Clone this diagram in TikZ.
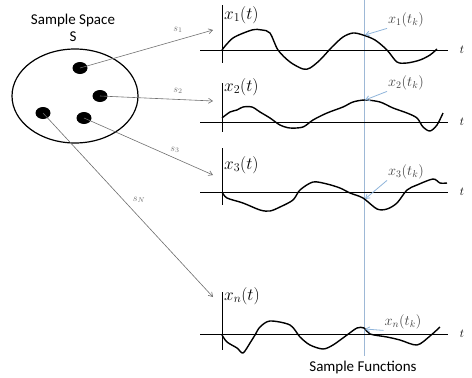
\documentclass[tikz,border=0pt]{standalone}
\usepackage{amsmath}
\usepackage{fontspec}
\newfontfamily\captionFont{Carlito}
\usepackage{tikz}
\usetikzlibrary{
  arrows.meta,
  shapes.geometric
}
\definecolor{mapGray}{HTML}{6E6E6E}
\definecolor{tkBlue}{HTML}{9DB8D6}
\definecolor{tkArrowBlue}{HTML}{8FB4DA}
\tikzset{
  samplePoint/.style={ellipse, fill=black, minimum width=15pt, minimum height=12pt, inner sep=0pt},
  spaceOutline/.style={draw=black, line width=1.2pt},
  mapArrow/.style={draw=mapGray, line width=0.6pt, -{Straight Barb[length=4pt,width=5pt]}},
  mapLabel/.style={font=\fontsize{10}{11}\selectfont, text=mapGray, inner sep=1pt},
  axisLine/.style={black, line width=0.8pt},
  sampleWave/.style={black, line width=1.4pt, line join=round, smooth, tension=0.5},
  funcLabel/.style={font=\fontsize{17}{19}\selectfont, anchor=west, inner sep=1pt},
  tkLabel/.style={font=\fontsize{14}{16}\selectfont, text=black!75, inner sep=1pt},
  tkArrow/.style={draw=tkArrowBlue, line width=0.8pt, -{Straight Barb[length=4pt,width=5pt]}},
  timeLabel/.style={font=\fontsize{13}{15}\selectfont},
  captionText/.style={font=\captionFont\fontsize{15}{17}\selectfont, align=center}
}

\begin{document}
\begin{tikzpicture}[x=1pt,y=-1pt]
  \useasboundingbox (0,0) rectangle (472,378);

  \node[captionText] (spaceLabel) at (73,28) {Sample Space\\S};
  \draw[spaceOutline] (75,96) ellipse [x radius=63, y radius=47];
  \node[samplePoint] (p1) at (80,68) {};
  \node[samplePoint] (p2) at (100,96) {};
  \node[samplePoint] (p3) at (84,118) {};
  \node[samplePoint] (pN) at (43,113) {};

  \coordinate (e1) at (213,30);
  \coordinate (e2) at (213,101);
  \coordinate (e3) at (213,175);
  \coordinate (eN) at (213,297);
  \draw[mapArrow] (p1.center) -- (e1);
  \draw[mapArrow] (p2.center) -- (e2);
  \draw[mapArrow] (p3.center) -- (e3);
  \draw[mapArrow] (pN.center) -- (eN);
  \node[mapLabel] (s1) at (178,30) {$s_1$};
  \node[mapLabel] (s2) at (178,91) {$s_2$};
  \node[mapLabel] (s3) at (175,150) {$s_3$};
  \node[mapLabel] (sN) at (139,200) {$s_N$};

  \draw[tkBlue, line width=1pt] (364,0) -- (364,356);

  \begin{scope}[shift={(222,50)}]
    \draw[axisLine] (-22,0) -- (226,0);
    \draw[axisLine] (0,-45) -- (0,13);
    \draw[sampleWave] plot coordinates {(0,0) (11,-12) (30,-20) (40,-20) (48,-17)
      (56,0) (68,12) (81,19) (88,18) (98,10) (110,-3) (121,-13) (131,-17)
      (141,-15) (153,-10) (165,0) (175,12) (185,13) (198,10) (208,5) (215,-1)};
    \node[funcLabel] (f1) at (1,-35) {$x_1(t)$};
    \node[timeLabel] (t1) at (240,0) {$t$};
    \coordinate (tk1) at (143,-15);
    \node[tkLabel] (k1) at (184,-30) {$x_1(t_k)$};
  \end{scope}
  \draw[tkArrow] (k1.south west) -- (tk1);

  \begin{scope}[shift={(222,122)}]
    \draw[axisLine] (-22,0) -- (226,0);
    \draw[axisLine] (0,-39) -- (0,10);
    \draw[sampleWave] plot coordinates {(0,-4) (8,-10) (15,-12) (21,-15) (30,-15)
      (38,-10) (48,-4) (58,3) (68,6) (81,5) (91,-2) (105,-9) (121,-15)
      (131,-20) (143,-22) (158,-20) (171,-14) (185,-9) (195,-4) (201,5)
      (208,9) (215,3) (221,-9)};
    \node[funcLabel] (f2) at (1,-35) {$x_2(t)$};
    \node[timeLabel] (t2) at (240,0) {$t$};
    \coordinate (tk2) at (143,-22);
    \node[tkLabel] (k2) at (184,-39) {$x_2(t_k)$};
  \end{scope}
  \draw[tkArrow] (k2.south west) -- (tk2);

  \begin{scope}[shift={(222,192)}]
    \draw[axisLine] (-22,0) -- (226,0);
    \draw[axisLine] (0,-44) -- (0,13);
    \draw[sampleWave] plot coordinates {(0,0) (5,6) (21,11) (38,18) (48,19)
      (58,15) (71,8) (78,-2) (91,-10) (105,-8) (118,-4) (128,1) (141,6)
      (155,17) (165,17) (175,11) (185,-2) (195,-7) (211,-13) (218,-9) (225,-9)};
    \node[funcLabel] (f3) at (1,-27) {$x_3(t)$};
    \node[timeLabel] (t3) at (240,0) {$t$};
    \coordinate (tk3) at (143,7);
    \node[tkLabel] (k3) at (184,-20) {$x_3(t_k)$};
  \end{scope}
  \draw[tkArrow] (k3.south west) -- (tk3);

  \begin{scope}[shift={(222,334)}]
    \draw[axisLine] (-22,0) -- (226,0);
    \draw[axisLine] (0,-42) -- (0,16);
    \draw[sampleWave] plot coordinates {(0,1) (5,8) (15,14) (21,19) (28,9)
      (33,1) (38,-7) (48,-13) (68,-9) (78,3) (88,11) (101,15) (111,11)
      (125,1) (135,-6) (142,-6) (148,0) (165,3) (178,6) (195,11) (208,2) (218,-7)};
    \node[funcLabel] (fN) at (1,-38) {$x_n(t)$};
    \node[timeLabel] (tN) at (240,0) {$t$};
    \coordinate (tkN) at (143,-5);
    \node[tkLabel] (kN) at (181,-12) {$x_n(t_k)$};
  \end{scope}
  \draw[tkArrow] (kN.south west) -- (tkN);

  \node[captionText] (funcCaption) at (363,367) {Sample Functions};
\end{tikzpicture}
\end{document}
